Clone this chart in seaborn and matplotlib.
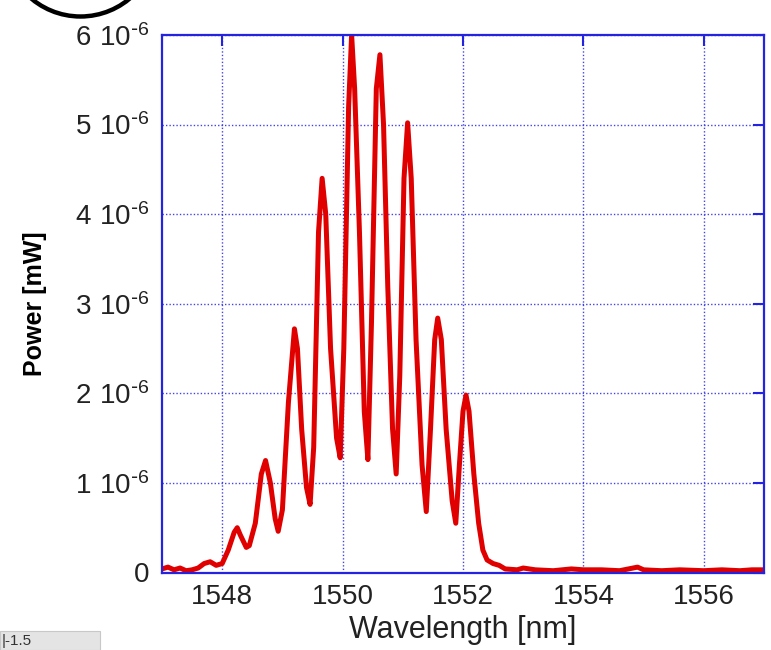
import numpy as np
import pandas as pd
import matplotlib
matplotlib.use("Agg")
import matplotlib.pyplot as plt
import seaborn as sns
from matplotlib.ticker import FuncFormatter
from matplotlib.patches import Ellipse, Rectangle

# ---- data ----
wavelength_nm = [
    1547.00, 1547.10, 1547.20, 1547.30, 1547.40, 1547.50, 1547.60, 1547.70, 1547.80, 1547.90,
    1548.00, 1548.10, 1548.20, 1548.25, 1548.30, 1548.40, 1548.45, 1548.55, 1548.65, 1548.72,
    1548.80, 1548.88, 1548.93, 1549.00, 1549.10, 1549.20, 1549.25, 1549.32, 1549.40, 1549.46,
    1549.52, 1549.60, 1549.66, 1549.72, 1549.80, 1549.90, 1549.96, 1550.02, 1550.10, 1550.15,
    1550.20, 1550.28, 1550.36, 1550.42, 1550.48, 1550.56, 1550.62, 1550.68, 1550.75, 1550.83,
    1550.89, 1550.95, 1551.02, 1551.08, 1551.14, 1551.22, 1551.32, 1551.39, 1551.46, 1551.53,
    1551.58, 1551.64, 1551.72, 1551.82, 1551.88, 1551.94, 1552.00, 1552.05, 1552.10, 1552.18,
    1552.26, 1552.33, 1552.40, 1552.50, 1552.60, 1552.70, 1552.90, 1553.00, 1553.20, 1553.50,
    1553.80, 1554.00, 1554.30, 1554.60, 1554.90, 1555.00, 1555.30, 1555.60, 1556.00, 1556.30,
    1556.60, 1556.80, 1557.00,
]
power_uW_scaled = [  # power in units of 1e-6 mW
    0.04, 0.06, 0.03, 0.05, 0.02, 0.03, 0.05, 0.10, 0.12, 0.08,
    0.10, 0.25, 0.45, 0.50, 0.42, 0.28, 0.30, 0.55, 1.10, 1.25,
    1.00, 0.60, 0.46, 0.70, 1.90, 2.72, 2.50, 1.60, 0.95, 0.76,
    1.40, 3.80, 4.40, 4.00, 2.50, 1.50, 1.28, 2.50, 5.20, 6.00,
    5.40, 3.80, 1.80, 1.26, 2.80, 5.40, 5.78, 5.00, 3.20, 1.60,
    1.10, 2.20, 4.40, 5.02, 4.40, 2.60, 1.20, 0.68, 1.60, 2.60,
    2.84, 2.60, 1.60, 0.80, 0.55, 1.20, 1.80, 1.98, 1.80, 1.10,
    0.55, 0.25, 0.14, 0.10, 0.08, 0.04, 0.03, 0.05, 0.03, 0.02,
    0.04, 0.03, 0.03, 0.02, 0.06, 0.03, 0.02, 0.03, 0.02, 0.03,
    0.02, 0.03, 0.03,
]
x_ticks = [1548, 1550, 1552, 1554, 1556]
y_ticks = [0, 1, 2, 3, 4, 5, 6]  # times 1e-6

df = pd.DataFrame({"Wavelength": wavelength_nm,
                   "Power": np.array(power_uW_scaled) * 1e-6})

# ---- style ----
sns.set_style("white")
plt.rcParams["font.family"] = ["Liberation Sans", "DejaVu Sans"]
BLUE = "#2424E0"
RED = "#E00000"

fig = plt.figure(figsize=(7.71, 6.5), dpi=100)
ax = fig.add_axes([162 / 771, 1 - 572.5 / 650, (764 - 162) / 771, (572.5 - 35) / 650])

sns.lineplot(data=df, x="Wavelength", y="Power", ax=ax, color=RED,
             linewidth=3.6, estimator=None, sort=False,
             solid_joinstyle="round")

ax.set_xlim(1547, 1557)
ax.set_ylim(0, 6e-6)
ax.set_xticks(x_ticks)
ax.set_yticks([v * 1e-6 for v in y_ticks])


def yfmt(v, pos):
    n = int(round(v * 1e6))
    if n == 0:
        return "0"
    return r"$\mathregular{%d\ 10^{\text{-}6}}$" % n


ax.yaxis.set_major_formatter(FuncFormatter(yfmt))
ax.tick_params(axis="both", which="major", direction="in", length=8, width=1.5,
               color=BLUE, labelsize=20, labelcolor="#222222",
               top=True, right=True, pad=9)
ax.tick_params(axis="x", pad=8)

for s in ax.spines.values():
    s.set_color(BLUE)
    s.set_linewidth(1.6)

ax.grid(True, color=BLUE, linestyle=(0, (1, 1.5)), linewidth=1.0, alpha=0.85)
ax.set_axisbelow(True)

ax.set_xlabel("Wavelength [nm]", fontsize=22, color="#222222", labelpad=4)
ax.set_ylabel("Power [mW]", fontsize=18, fontweight="bold", color="black", labelpad=20)

# artifacts from the cropped source figure
fig.add_artist(Ellipse((80.5 / 771, 1 + 60 / 650), 2 * 76.5 / 771, 2 * 76.5 / 650,
                       transform=fig.transFigure, fill=False, edgecolor="black",
                       linewidth=3.2, clip_on=False))
fig.add_artist(Rectangle((0, 0), 100 / 771, 19 / 650, transform=fig.transFigure,
                         facecolor="#E4E4E4", edgecolor="#C8C8C8", linewidth=0.8))
fig.text(2 / 771, 2 / 650, "|-1.5", fontsize=11, color="#333333",
         transform=fig.transFigure, va="bottom", ha="left")

fig.savefig("out.png", dpi=100)
